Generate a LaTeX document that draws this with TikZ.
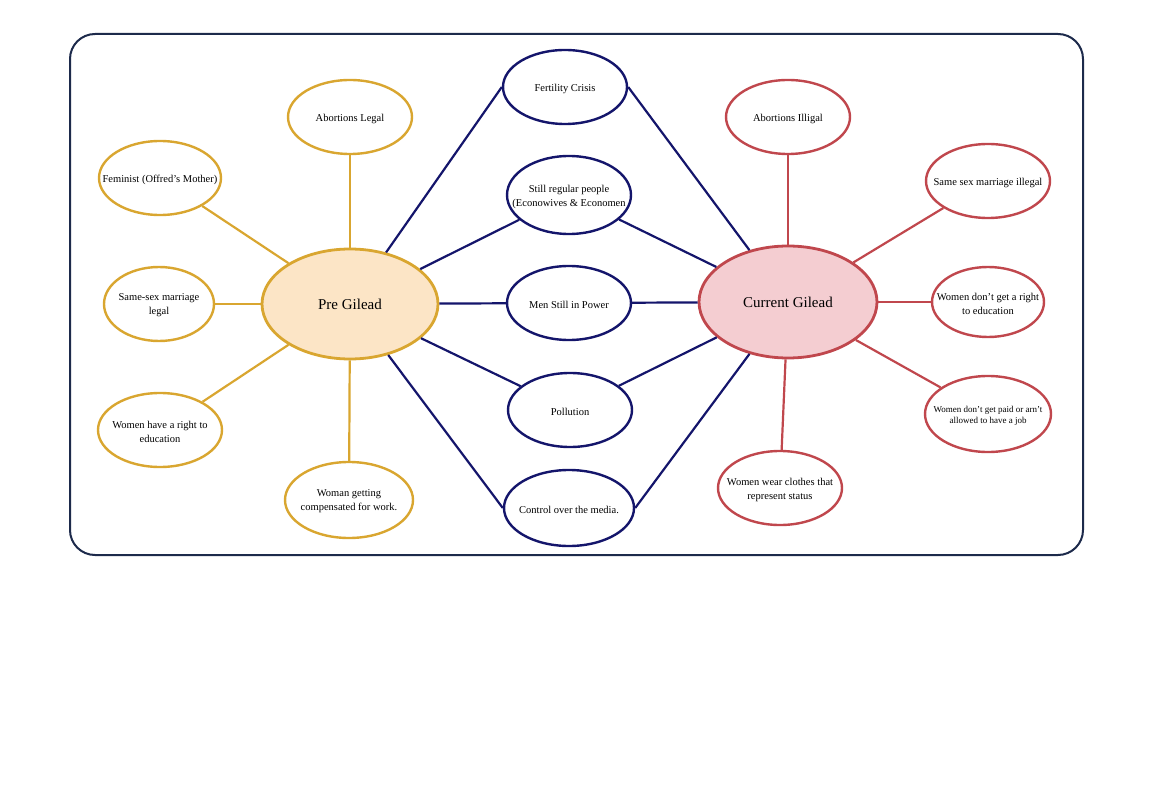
\documentclass[tikz,border=0pt]{standalone}
\usepackage{fontspec}
\setmainfont{Liberation Serif}
\usetikzlibrary{shapes.geometric}

\definecolor{gold}{HTML}{D9A630}
\definecolor{peach}{HTML}{FCE5C6}
\definecolor{navy}{HTML}{14156B}
\definecolor{wine}{HTML}{C0474D}
\definecolor{rose}{HTML}{F4CDD1}
\definecolor{frame}{HTML}{1D2A4B}

\begin{document}
\begin{tikzpicture}[x=1pt, y=-1pt,
	oval/.style={ellipse, line width=2.4pt, fill=white, inner sep=0pt, minimum width=124pt, minimum height=74pt},
	hub/.style={ellipse, line width=2.8pt, inner sep=0pt, minimum width=176pt, minimum height=110pt, font=\fontsize{15}{18}\selectfont},
	every label/.style={font=\fontsize{10.5}{14}\selectfont, align=center, yshift=-1.5pt},
	goldline/.style={gold, line width=2.2pt},
	navyline/.style={navy, line width=2.2pt},
	wineline/.style={wine, line width=2.2pt}]
	\useasboundingbox (0,0) rectangle (1151,794);
	
	% Рамка
	\draw[frame, line width=2pt, rounded corners=25pt] (70,34) rectangle (1083,555);
	
	% Центральные эллипсы
	\node[hub, draw=gold, fill=peach] (P) at (350,304) {Pre Gilead};
	\node[hub, draw=wine, fill=rose, minimum width=178pt, minimum height=112pt] (C) at (788,302) {Current Gilead};
	
	% До Галаада
	\node[oval, draw=gold, label={center:Abortions Legal}] (P1) at (350,117) {};
	\node[oval, draw=gold, minimum width=122pt, label={center:Feminist (Offred's Mother)}] (P2) at (160,178) {};
	\node[oval, draw=gold, minimum width=110pt, label={center:Same-sex marriage\\legal}] (P3) at (159,304) {};
	\node[oval, draw=gold, label={center:Women have a right to\\education}] (P4) at (160,430) {};
	\node[oval, draw=gold, minimum width=128pt, minimum height=76pt, label={center:Woman getting\\compensated for work.}] (P5) at (349,500) {};
	
	% Общее
	\node[oval, draw=navy, label={center:Fertility Crisis}] (M1) at (565,87) {};
	\node[oval, draw=navy, minimum height=78pt, label={center:Still regular people\\(Econowives \& Economen}] (M2) at (569,195) {};
	\node[oval, draw=navy, label={center:Men Still in Power}] (M3) at (569,303) {};
	\node[oval, draw=navy, label={center:Pollution}] (M4) at (570,410) {};
	\node[oval, draw=navy, minimum width=130pt, minimum height=76pt, label={center:Control over the media.}] (M5) at (569,508) {};
	
	% Галаад сейчас
	\node[oval, draw=wine, label={center:Abortions Illigal}] (C1) at (788,117) {};
	\node[oval, draw=wine, label={center:Same sex marriage illegal}] (C2) at (988,181) {};
	\node[oval, draw=wine, minimum width=112pt, minimum height=70pt, label={center:Women don't get a right\\to education}] (C3) at (988,302) {};
	\node[oval, draw=wine, minimum width=126pt, minimum height=76pt, label={[font=\fontsize{9}{11}\selectfont]center:Women don't get paid or arn't\\allowed to have a job}] (C4) at (988,414) {};
	\node[oval, draw=wine, label={center:Women wear clothes that\\represent status}] (C5) at (780,488) {};
	
	% Связи
	\foreach \s in {P1,P2,P3,P4,P5}
		\draw[goldline] (P) -- (\s);
	\foreach \s in {C1,C2,C3,C4,C5}
		\draw[wineline] (C) -- (\s);
	\foreach \s in {M2,M3,M4}
		\draw[navyline] (P) -- (\s) -- (C);
	\draw[navyline] (P) -- (M1.west);
	\draw[navyline] (M1.east) -- (C);
	\draw[navyline] (P) -- (M5.west);
	\draw[navyline] (M5.east) -- (C);
\end{tikzpicture}
\end{document}
